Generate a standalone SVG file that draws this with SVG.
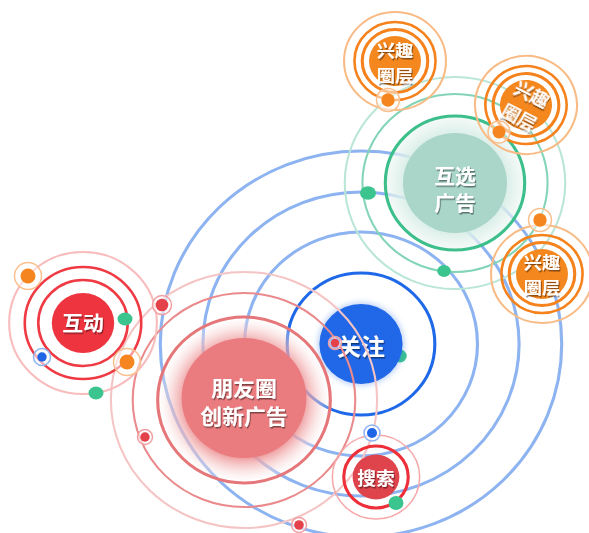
<svg xmlns="http://www.w3.org/2000/svg" width="589" height="533" viewBox="0 0 589 533">
<defs>
<style>
.t{font-family:"Noto Sans CJK SC","Noto Sans",sans-serif;font-weight:700;fill:#fff;text-anchor:middle;dominant-baseline:central;filter:url(#ts)}
.bo{fill:none;stroke:#8db3f1;stroke-width:3}
.o{fill:none}
.gd{fill:#3cc48f}
.rd{fill:#e4414b}
.rh{fill:#fff;fill-opacity:.6;stroke:#f0a0a3;stroke-width:1.5}
.bd{fill:#1f66e6}
.bh{fill:#fff;fill-opacity:.6;stroke:#8db3f1;stroke-width:1.5}
.od{fill:#f5861f}
.oh{fill:#fff;fill-opacity:.5;stroke:#f9c08f;stroke-width:1.5}
.xl{fill:none;stroke:#f9bb86;stroke-width:2}
.xr{fill:none;stroke:#f5821c}
.xf{fill:#f5871f}
</style>
<filter id="ts" x="-20%" y="-30%" width="140%" height="160%"><feDropShadow dx="1" dy="1.5" stdDeviation="0.7" flood-color="#000" flood-opacity="0.45"/></filter>
<filter id="sh" x="-30%" y="-30%" width="160%" height="160%"><feGaussianBlur stdDeviation="3"/></filter>
<radialGradient id="gR" cx="0" cy="0" r="83" gradientUnits="userSpaceOnUse">
<stop offset="0.68" stop-color="#eb8a8c" stop-opacity="0.9"/>
<stop offset="0.82" stop-color="#f4bcbd" stop-opacity="0.6"/>
<stop offset="1" stop-color="#ffffff" stop-opacity="0.2"/>
</radialGradient>
<radialGradient id="gG" cx="0" cy="0" r="67" gradientUnits="userSpaceOnUse">
<stop offset="0.7" stop-color="#d3ebe4" stop-opacity="0.95"/>
<stop offset="1" stop-color="#eef7f4" stop-opacity="0.6"/>
</radialGradient>
<g id="xq">
<circle r="49" class="xl"/>
<circle r="39" class="xr" stroke-width="2.5"/>
<circle r="31.5" class="xr" stroke-width="3"/>
<circle r="25" class="xf"/>
</g>
</defs>
<rect width="589" height="533" fill="#fff"/>

<g id="node-guanzhu" transform="translate(361 344) scale(1.04 1)">
<circle r="193" class="bo"/>
<circle r="152" class="bo"/>
<circle r="112" class="bo"/>
<circle r="71" class="o" stroke="#1f69e8" stroke-width="3"/>
<circle cx="37.5" cy="12" r="6.5" class="gd"/>
<circle r="41" fill="#2168e8" opacity="0.35" filter="url(#sh)"/>
<circle r="40" fill="#2168e8"/>
<text class="t" y="1" font-size="23">关注</text>
</g>

<g id="node-huxuan" transform="translate(455 183) scale(1.04 1)">
<circle r="106" class="o" stroke="#b9e6d6" stroke-width="2"/>
<circle r="89" class="o" stroke="#84d5b7" stroke-width="2"/>
<circle r="66" fill="url(#gG)"/>
<circle r="67" class="o" stroke="#3dbf8c" stroke-width="3"/>
<circle r="50" fill="#a9d6c9"/>
<text class="t" y="-8" font-size="20">互选</text>
<text class="t" y="19.5" font-size="20">广告</text>
</g>

<g id="node-pengyouquan" transform="translate(244 400) scale(1.04 1)">
<circle r="128" class="o" stroke="#f5c4c4" stroke-width="2"/>
<circle r="107" class="o" stroke="#ea8a8c" stroke-width="2"/>
<circle r="82" fill="url(#gR)"/>
<circle r="83" class="o" stroke="#e5777a" stroke-width="3"/>
<circle cy="-2" r="60" fill="#ea7c7f"/>
<text class="t" y="-13" font-size="21">朋友圈</text>
<text class="t" y="15" font-size="21">创新广告</text>
</g>

<g id="node-sousuo" transform="translate(376 477) scale(1.04 1)">
<circle r="42" class="o" stroke="#f5a9ab" stroke-width="1.5"/>
<circle r="31" class="o" stroke="#ee2f3a" stroke-width="3"/>
<circle r="22.5" fill="#df434b"/>
<text class="t" y="0.5" font-size="18">搜索</text>
</g>

<g id="node-hudong" transform="translate(83 323) scale(1.04 1)">
<circle r="71" class="o" stroke="#f8bcbd" stroke-width="2"/>
<circle r="56" class="o" stroke="#ef3a44" stroke-width="2.5"/>
<circle r="43" class="o" stroke="#ef3a44" stroke-width="2.5"/>
<circle r="30" fill="#ee343e"/>
<text class="t" y="-1" font-size="20">互动</text>
</g>

<g id="node-xingqu-1" transform="translate(395 61) scale(1.04 1)">
<use href="#xq"/>
<text class="t" y="-12" font-size="17.5">兴趣</text>
<text class="t" y="13" font-size="17.5">圈层</text>
</g>

<g id="node-xingqu-2" transform="translate(526 105) scale(1.04 1) rotate(28)">
<use href="#xq"/>
<text class="t" y="-12.5" font-size="17.5">兴趣</text>
<text class="t" y="12.5" font-size="17.5">圈层</text>
</g>

<g id="node-xingqu-3" transform="translate(542 274) scale(1.04 1)">
<use href="#xq"/>
<text class="t" y="-13" font-size="17.5">兴趣</text>
<text class="t" y="12" font-size="17.5">圈层</text>
</g>

<g id="dots">
<circle cx="335" cy="343" r="6.5" class="rh"/><circle cx="335" cy="343" r="4.2" class="rd"/>
<circle cx="162" cy="305" r="9.5" class="rh"/><circle cx="162" cy="305" r="6.3" class="rd"/>
<circle cx="145" cy="437" r="7.5" class="rh"/><circle cx="145" cy="437" r="4.7" class="rd"/>
<circle cx="299" cy="525" r="7.5" class="rh"/><circle cx="299" cy="525" r="4.8" class="rd"/>
<circle cx="372" cy="433" r="8" class="bh"/><circle cx="372" cy="433" r="5" class="bd"/>
<circle cx="42" cy="357" r="8.5" class="bh"/><circle cx="42" cy="357" r="4.7" class="bd"/>
<circle cx="28" cy="276" r="13.5" class="oh"/><circle cx="28" cy="276" r="7.5" class="od"/>
<circle cx="127" cy="362" r="13.5" class="oh"/><circle cx="127" cy="362" r="7.5" class="od"/>
<circle cx="388" cy="100" r="11.5" class="oh"/><circle cx="388" cy="100" r="6.7" class="od"/>
<circle cx="499" cy="132" r="11" class="oh"/><circle cx="499" cy="132" r="6.5" class="od"/>
<circle cx="540" cy="220" r="11.5" class="oh"/><circle cx="540" cy="220" r="6.7" class="od"/>
<ellipse cx="368" cy="193" rx="8" ry="6.7" class="gd"/>
<ellipse cx="444" cy="271" rx="6.8" ry="6" class="gd"/>
<ellipse cx="396" cy="503" rx="7.5" ry="7" class="gd"/>
<ellipse cx="125" cy="319" rx="7.5" ry="6.5" class="gd"/>
<ellipse cx="96" cy="393" rx="7.5" ry="6.5" class="gd"/>
</g>
</svg>
